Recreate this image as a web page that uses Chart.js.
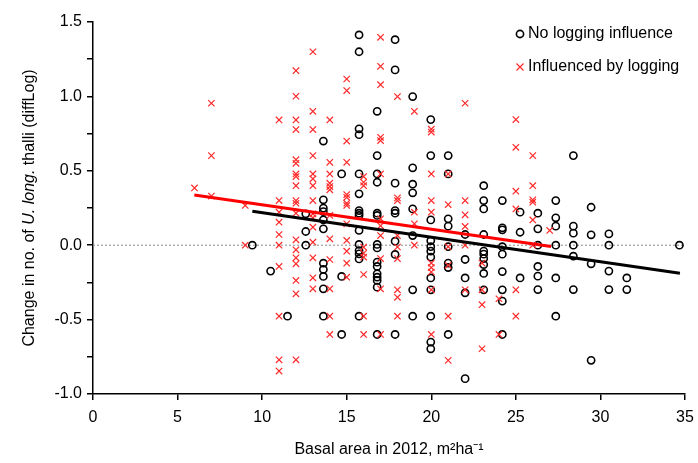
<!DOCTYPE html>
<html lang="en">
<head>
    <meta charset="UTF-8">
    <title>Change in U. long. thalli vs basal area</title>
    <script src="https://cdn.jsdelivr.net/npm/chart.js"></script>
    <style>
        html, body { margin: 0; padding: 0; background: #fff; }
        #wrap { width: 698px; height: 463px; }
    </style>
</head>
<body>
    <div id="wrap"><canvas id="scatterChart" width="698" height="463"></canvas></div>

    <script>
        // Basal area columns (m2/ha) and the diffLog values stacked on each
        const noLogBasal = [9.42, 10.5, 11.5, 12.58, 13.62, 14.7, 15.73, 16.8, 17.86, 18.9, 19.97, 21.0, 22.0, 23.1, 24.2, 25.25, 26.3, 27.36, 28.4, 29.45, 30.5, 31.56, 34.67];
        const noLogChange = [
            [0.0],
            [-0.174],
            [-0.477],
            [0.211, 0.092, 0.0],
            [0.70, 0.305, 0.249, 0.226, 0.17, 0.11, -0.121, -0.163, -0.21, -0.293, -0.477],
            [0.479, -0.21, -0.60],
            [1.413, 1.30, 0.782, 0.743, 0.479, 0.345, 0.233, 0.215, 0.20, 0.099, 0.005, -0.036, -0.058, -0.092, -0.477],
            [0.90, 0.602, 0.479, 0.423, 0.215, 0.20, 0.005, -0.018, -0.114, -0.143, -0.192, -0.215, -0.237, -0.282, -0.60],
            [1.381, 1.178, 0.417, 0.233, 0.215, 0.027, -0.062, -0.60],
            [0.999, 0.52, 0.41, 0.352, 0.244, 0.065, -0.30, -0.477],
            [0.844, 0.602, 0.17, 0.03, -0.01, -0.04, -0.08, -0.22, -0.30, -0.477, -0.651, -0.696],
            [0.602, 0.479, 0.177, 0.128, -0.01, -0.12, -0.15, -0.60],
            [0.072, -0.096, -0.22, -0.32, -0.897],
            [0.40, 0.30, 0.244, 0.072, -0.04, -0.06, -0.09, -0.13, -0.19, -0.30],
            [0.30, 0.117, 0.103, -0.01, -0.06, -0.177, -0.30, -0.376, -0.60],
            [0.222, 0.087, -0.22],
            [0.215, 0.11, 0.0, -0.143, -0.208, -0.298],
            [0.30, 0.184, 0.128, 0.0, -0.22, -0.477],
            [0.602, 0.128, 0.081, 0.0, -0.074, -0.298],
            [0.255, 0.07, -0.125, -0.774],
            [0.076, 0.0, -0.174, -0.298],
            [-0.22, -0.298],
            [0.0]
        ];

        const logBasal = [6, 7, 9, 11, 12, 13, 14, 15, 16, 17, 18, 19, 20, 21, 22, 23, 24, 25, 26, 27];
        const logChange = [
            [0.385],
            [0.954, 0.602, 0.33],
            [0.267, 0.0],
            [0.842, 0.30, 0.222, 0.155, 0.072, 0.0, -0.143, -0.477, -0.77, -0.846],
            [1.173, 1.001, 0.842, 0.777, 0.575, 0.55, 0.479, 0.461, 0.40, 0.30, 0.282, 0.215, 0.036, -0.031, -0.085, -0.125, -0.237, -0.327, -0.77],
            [1.30, 0.90, 0.777, 0.602, 0.479, 0.446, 0.40, 0.30, 0.211, 0.183, 0.121, 0.02, -0.085, -0.219, -0.293],
            [0.842, 0.557, 0.479, 0.417, 0.394, 0.372, 0.20, 0.043, -0.096, -0.293, -0.477, -0.60],
            [1.117, 1.039, 0.70, 0.557, 0.34, 0.322, 0.282, 0.267, 0.144, 0.032, -0.04, -0.121, -0.215],
            [0.461, 0.423, 0.40, -0.013, -0.054, -0.08, -0.197, -0.477, -0.60],
            [1.397, 1.202, 1.079, 0.725, 0.703, 0.479, 0.177, 0.13, 0.065, -0.09, -0.293, -0.60],
            [0.999, 0.318, 0.30, 0.065, -0.012, -0.09, -0.30, -0.35, -0.477],
            [0.90, 0.222, 0.144, 0.0],
            [0.78, 0.76, 0.479, 0.30, 0.222, -0.12, -0.15, -0.18, -0.30, -0.60],
            [0.479, 0.273, -0.01, -0.135, -0.477, -0.774],
            [0.954, 0.30, 0.204, 0.126, 0.0, -0.30],
            [-0.12, -0.30, -0.40, -0.696],
            [-0.36, -0.60],
            [0.844, 0.658, 0.363, 0.244, -0.30, -0.477],
            [0.602, 0.40, 0.305, 0.289, 0.17, 0.0],
            [0.099]
        ];

        // Fitted lines, end points
        const noLogFitX = [9.42, 34.7];
        const noLogFitY = [0.228, -0.188];
        const logFitX = [5.99, 27.08];
        const logFitY = [0.338, -0.009];

        const xTicks = [0, 5, 10, 15, 20, 25, 30, 35];
        const yRange = [-1.0, 1.5];

        const FONT = "'Liberation Sans', Arial, sans-serif";
        const RED = '#ff2a2a';

        function toPoints(cols, vals) {
            const pts = [];
            cols.forEach((x, i) => vals[i].forEach(y => pts.push({ x: x, y: y })));
            return pts;
        }

        function pairPoints(xs, ys) {
            return xs.map((x, i) => ({ x: x, y: ys[i] }));
        }

        // legend and the y title (part of it is italic) drawn by hand
        const annotations = {
            id: 'annotations',
            afterDraw(chart) {
                const ctx = chart.ctx;
                ctx.save();

                // legend
                ctx.font = '16px ' + FONT;
                ctx.fillStyle = '#000';
                ctx.textBaseline = 'middle';
                ctx.textAlign = 'left';
                ctx.strokeStyle = '#000';
                ctx.lineWidth = 1.6;
                ctx.beginPath();
                ctx.arc(520, 34, 3.6, 0, Math.PI * 2);
                ctx.stroke();
                ctx.fillText('No logging influence', 528, 34);

                ctx.strokeStyle = RED;
                ctx.lineWidth = 1.2;
                ctx.beginPath();
                ctx.moveTo(516.5, 63.5); ctx.lineTo(523.5, 70.5);
                ctx.moveTo(523.5, 63.5); ctx.lineTo(516.5, 70.5);
                ctx.stroke();
                ctx.fillText('Influenced by logging', 528, 67);

                // y axis title
                const parts = [
                    { t: 'Change in no. of ', f: '16px ' + FONT },
                    { t: 'U. long.', f: 'italic 16px ' + FONT },
                    { t: ' thalli (diffLog)', f: '16px ' + FONT }
                ];
                let total = 0;
                parts.forEach(p => { ctx.font = p.f; p.w = ctx.measureText(p.t).width; total += p.w; });
                ctx.translate(30, (chart.chartArea.top + chart.chartArea.bottom) / 2);
                ctx.rotate(-Math.PI / 2);
                let pos = -total / 2;
                parts.forEach(p => { ctx.font = p.f; ctx.fillText(p.t, pos, 0); pos += p.w; });

                ctx.restore();
            }
        };

        const ctx = document.getElementById('scatterChart').getContext('2d');
        new Chart(ctx, {
            type: 'scatter',
            data: {
                datasets: [
                    {
                        label: 'No logging influence fit',
                        type: 'line',
                        data: pairPoints(noLogFitX, noLogFitY),
                        borderColor: '#000',
                        borderWidth: 3,
                        pointRadius: 0,
                        fill: false,
                        order: 0
                    },
                    {
                        label: 'Influenced by logging fit',
                        type: 'line',
                        data: pairPoints(logFitX, logFitY),
                        borderColor: '#ff0000',
                        borderWidth: 3,
                        pointRadius: 0,
                        fill: false,
                        order: 0
                    },
                    {
                        label: 'Influenced by logging',
                        data: toPoints(logBasal, logChange),
                        pointStyle: 'crossRot',
                        pointRadius: 4.5,
                        pointBorderWidth: 1.2,
                        borderColor: RED,
                        backgroundColor: RED,
                        order: 1
                    },
                    {
                        label: 'No logging influence',
                        data: toPoints(noLogBasal, noLogChange),
                        pointStyle: 'circle',
                        pointRadius: 3.6,
                        pointBorderWidth: 1.6,
                        borderColor: '#000',
                        backgroundColor: 'rgba(0,0,0,0)',
                        order: 2
                    },
                    {
                        label: 'zero',
                        type: 'line',
                        data: [{ x: xTicks[0], y: 0 }, { x: xTicks[xTicks.length - 1], y: 0 }],
                        borderColor: '#8a8a8a',
                        borderWidth: 1,
                        borderDash: [2, 2],
                        pointRadius: 0,
                        fill: false,
                        order: 3
                    }
                ]
            },
            options: {
                responsive: false,
                animation: false,
                events: [],
                layout: { padding: { top: 22, right: 13, left: 0, bottom: 0 } },
                plugins: {
                    legend: { display: false },
                    tooltip: { enabled: false }
                },
                scales: {
                    x: {
                        type: 'linear',
                        min: xTicks[0],
                        max: xTicks[xTicks.length - 1],
                        afterFit: s => { s.height = 69; s.paddingLeft = 0; s.paddingRight = 0; },
                        afterBuildTicks: s => { s.ticks = xTicks.map(v => ({ value: v })); },
                        border: { display: true, color: '#000', width: 1.5 },
                        grid: { display: true, drawOnChartArea: false, drawTicks: true, tickLength: 6, color: '#000', lineWidth: 1.5 },
                        ticks: { color: '#000', font: { family: FONT, size: 16 }, padding: 8, maxRotation: 0 },
                        title: {
                            display: true,
                            text: 'Basal area in 2012, m\u00B2ha\u207B\u00B9',
                            color: '#000',
                            font: { family: FONT, size: 16 },
                            padding: { top: 13 }
                        }
                    },
                    y: {
                        type: 'linear',
                        min: yRange[0],
                        max: yRange[1],
                        afterFit: s => { s.width = 93; s.paddingTop = 0; s.paddingBottom = 0; },
                        border: { display: true, color: '#000', width: 1.5 },
                        grid: { display: true, drawOnChartArea: false, drawTicks: true, tickLength: 6, color: '#000', lineWidth: 1.5 },
                        ticks: {
                            stepSize: 0.25,
                            color: '#000',
                            font: { family: FONT, size: 16 },
                            padding: 5,
                            callback: v => (Math.abs(v * 2 - Math.round(v * 2)) < 1e-6 ? v.toFixed(1) : '')
                        }
                    }
                }
            },
            plugins: [annotations]
        });
    </script>
</body>
</html>
